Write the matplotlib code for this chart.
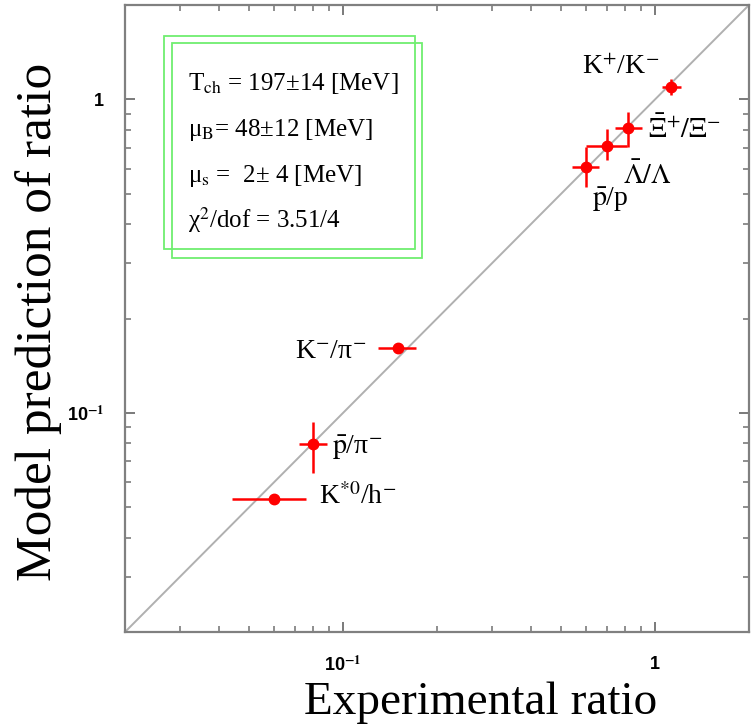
import numpy as np
import matplotlib
matplotlib.use("Agg")
import matplotlib.pyplot as plt
from matplotlib.patches import Rectangle

plt.rcParams['font.family'] = ['Liberation Serif', 'DejaVu Serif']
plt.rcParams['mathtext.fontset'] = 'stix'

# data
names = [r'K$^{+}$/K$^{-}$', r'$\bar{\Xi}^{+}/\Xi^{-}$', r'$\bar{\Lambda}/\Lambda$',
         r'$\bar{\mathrm{p}}$/p', r'K$^{-}$/π$^{-}$',
         r'$\bar{\mathrm{p}}$/π$^{-}$', r'K$^{*0}$/h$^{-}$']
exp_ratio = np.array([1.125, 0.818, 0.702, 0.600, 0.150, 0.080, 0.0601])
exp_lo    = np.array([1.05, 0.743, 0.601, 0.542, 0.129, 0.0723, 0.0441])
exp_hi    = np.array([1.21, 0.907, 0.813, 0.661, 0.171, 0.0887, 0.0760])
model     = np.array([1.094, 0.811, 0.710, 0.610, 0.161, 0.0796, 0.0531])
model_lo  = np.array([1.03, 0.705, 0.641, 0.525, 0.161, 0.0643, 0.0531])
model_hi  = np.array([1.16, 0.912, 0.805, 0.705, 0.161, 0.0935, 0.0531])

fit_lines = [r'T$_{\rm ch}$ = 197±14 [MeV]',
             r'μ$_{\rm B}$= 48±12 [MeV]',
             r'μ$_{\rm s}$ =  2± 4 [MeV]',
             r'χ$^{2}$/dof = 3.51/4']

major_ticks = [0.1, 1]
tick_labels = [r'10$^{\mathbf{-1}}$', '1']
lims = (0.02, 2)

# label offsets from each point (pixels, baseline-left)
label_dx = [-89, 20, 16, 6, -103, 19, 45]
label_dy = [13, -10, -38, -39, -10, -10, -5]

fig = plt.figure(figsize=(7.52, 7.26), dpi=100)
ax = fig.add_axes([125/752, 94/726, 624/752, 627/726])
ax.set_xscale('log')
ax.set_yscale('log')
ax.set_xlim(lims)
ax.set_ylim(lims)

ax.plot(lims, lims, color='#b0b0b0', lw=1.4, zorder=1)

ax.errorbar(exp_ratio, model,
            xerr=[exp_ratio - exp_lo, exp_hi - exp_ratio],
            yerr=[model - model_lo, model_hi - model],
            fmt='o', color='red', ms=7.5, elinewidth=1.8, capsize=0, zorder=3)

for i, name in enumerate(names):
    ax.annotate(name, (exp_ratio[i], model[i]), xytext=(label_dx[i], label_dy[i]),
                textcoords='offset pixels', ha='left', va='baseline', fontsize=20)

for s in ax.spines.values():
    s.set_color('#808080')
    s.set_linewidth(1.6)
ax.tick_params(which='both', direction='in', top=True, right=True, color='#707070')
ax.tick_params(which='major', length=7, width=1.3)
ax.tick_params(which='minor', length=4, width=1.1)
ax.set_xticks(major_ticks, labels=tick_labels)
ax.set_yticks(major_ticks, labels=tick_labels)
for lab in ax.get_xticklabels() + ax.get_yticklabels():
    lab.set_fontfamily('Liberation Sans')
    lab.set_fontweight('bold')
    lab.set_fontsize(13)
ax.tick_params(axis='x', pad=17)
ax.tick_params(axis='y', pad=15)

# fit parameter box
green = '#70ee70'
fig.patches.append(Rectangle((164/752, 1 - 249/726), 251/752, 213/726, fill=False,
                             ec=green, lw=1.3, transform=fig.transFigure, figure=fig))
fig.patches.append(Rectangle((172/752, 1 - 258/726), 250/752, 215/726, fill=False,
                             ec=green, lw=1.3, transform=fig.transFigure, figure=fig))
for k, line in enumerate(fit_lines):
    fig.text(188/752, 1 - (90 + 46*k)/726, line, fontsize=18, va='baseline', ha='left')

fig.text(481/752, 1 - 714/726, 'Experimental ratio', fontsize=34, ha='center', va='baseline')
fig.text(51/752, 1 - 322/726, 'Model prediction of ratio', fontsize=37, rotation=90,
         ha='center', va='baseline', rotation_mode='anchor')

fig.savefig('out.png', dpi=100)
